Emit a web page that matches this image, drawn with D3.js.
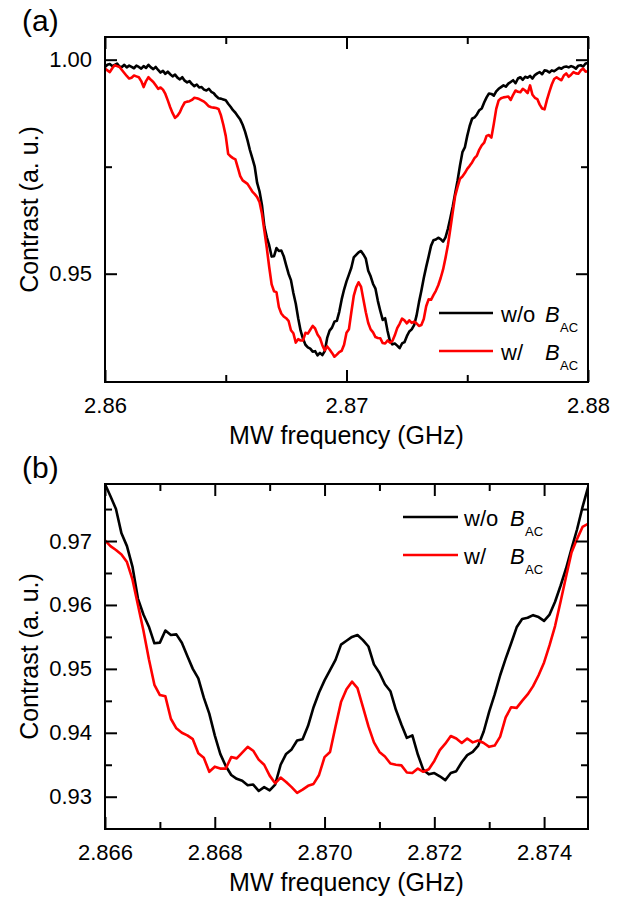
<!DOCTYPE html>
<html>
<head>
<meta charset="utf-8">
<script src="https://cdn.jsdelivr.net/npm/d3@7/dist/d3.min.js"></script>
<style>
    body { margin: 0; background: #fff; }
    svg { display: block; font-family: "Liberation Sans", Arial, sans-serif; }
    .axis text { font-size: 22px; fill: #000; }
    .axis line { stroke: #000; stroke-width: 2; }
    .axis path { display: none; }
    .frame { fill: none; stroke: #000; stroke-width: 2; }
    .series { fill: none; stroke-width: 2.6; stroke-linejoin: round; }
    .axislabel { font-size: 25px; fill: #000; }
    .panellabel { font-size: 30px; fill: #000; }
    .legendtext { font-size: 22px; fill: #000; }
    .legendsub { font-size: 13px; fill: #000; }
</style>
</head>
<body>
<svg id="vis" width="628" height="903"></svg>
<script>

// Data ------------------------------------------------------------------------

// Sweep grid (GHz): first point and spacing
const FREQ_START = 2.86;
const FREQ_STEP = 0.0001;

// Contrast without the AC field (black)
const contrastWithout = [
    0.9983, 0.9988, 0.9990, 0.9985, 0.9988, 0.9991, 0.9984, 0.9983, 0.9988, 0.9982,
    0.9986, 0.9983, 0.9980, 0.9986, 0.9983, 0.9979, 0.9985, 0.9981, 0.9988, 0.9982,
    0.9978, 0.9983, 0.9976, 0.9970, 0.9974, 0.9967, 0.9972, 0.9966, 0.9961, 0.9965,
    0.9958, 0.9954, 0.9959, 0.9951, 0.9947, 0.9950, 0.9943, 0.9938, 0.9942, 0.9935,
    0.9936, 0.9930, 0.9928, 0.9932, 0.9925, 0.9922, 0.9915, 0.9910, 0.9909, 0.9907,
    0.9905, 0.9897, 0.9890, 0.9882, 0.9876, 0.9868, 0.9860, 0.9848, 0.9832, 0.9812,
    0.9789, 0.9770, 0.9750, 0.9712, 0.9692, 0.9660, 0.9610, 0.9585, 0.9566, 0.9540,
    0.9541, 0.9560, 0.9553, 0.9554, 0.9541, 0.9520, 0.9500, 0.9485, 0.9455, 0.9430,
    0.9396, 0.9367, 0.9348, 0.9334, 0.9328, 0.9325, 0.9318, 0.9319, 0.9309, 0.9315,
    0.9310, 0.9319, 0.9350, 0.9367, 0.9374, 0.9388, 0.9390, 0.9411, 0.9440, 0.9463,
    0.9482, 0.9498, 0.9514, 0.9538, 0.9544, 0.9550, 0.9553, 0.9545, 0.9535, 0.9507,
    0.9494, 0.9476, 0.9465, 0.9436, 0.9413, 0.9392, 0.9396, 0.9366, 0.9342, 0.9335,
    0.9337, 0.9332, 0.9326, 0.9337, 0.9340, 0.9354, 0.9365, 0.9370, 0.9380, 0.9402,
    0.9433, 0.9460, 0.9490, 0.9516, 0.9540, 0.9565, 0.9578, 0.9580, 0.9584, 0.9581,
    0.9575, 0.9585, 0.9605, 0.9630, 0.9657, 0.9688, 0.9718, 0.9753, 0.9784,
    0.9795, 0.9822, 0.9845, 0.9862, 0.9865, 0.9872, 0.9882, 0.9886, 0.9900, 0.9912,
    0.9921, 0.9920, 0.9916, 0.9926, 0.9932, 0.9936, 0.9940, 0.9937, 0.9944, 0.9948,
    0.9952, 0.9945, 0.9956, 0.9959, 0.9953, 0.9960, 0.9958, 0.9962, 0.9956, 0.9964,
    0.9968, 0.9971, 0.9966, 0.9975, 0.9974, 0.9970, 0.9975, 0.9973, 0.9977, 0.9981,
    0.9979, 0.9983, 0.9984, 0.9982, 0.9985, 0.9983, 0.9979, 0.9986, 0.9987, 0.9984,
    0.9991, 0.9992
];

// Contrast with the AC field (red)
const contrastWith = [
    0.9979, 0.9975, 0.9971, 0.9980, 0.9987, 0.9985, 0.9983, 0.9976, 0.9969, 0.9962,
    0.9956, 0.9958, 0.9963, 0.9961, 0.9959, 0.9950, 0.9936, 0.9950, 0.9959, 0.9953,
    0.9948, 0.9940, 0.9932, 0.9935, 0.9930, 0.9920, 0.9905, 0.9889, 0.9875, 0.9864,
    0.9869, 0.9877, 0.9890, 0.9900, 0.9902, 0.9903, 0.9906, 0.9911, 0.9910, 0.9908,
    0.9905, 0.9902, 0.9897, 0.9891, 0.9889, 0.9888, 0.9887, 0.9885, 0.9870, 0.9848,
    0.9822, 0.9780, 0.9774, 0.9770, 0.9767, 0.9748, 0.9728, 0.9718, 0.9714, 0.9710,
    0.9701, 0.9692, 0.9686, 0.9679, 0.9667, 0.9640, 0.9600, 0.9560, 0.9515, 0.9475,
    0.9459, 0.9457, 0.9422, 0.9407, 0.9400, 0.9396, 0.9390, 0.9368, 0.9361, 0.9339,
    0.9347, 0.9344, 0.9344, 0.9362, 0.9360, 0.9369, 0.9378, 0.9372, 0.9358, 0.9350,
    0.9333, 0.9321, 0.9330, 0.9323, 0.9315, 0.9306, 0.9311, 0.9317, 0.9320, 0.9334,
    0.9362, 0.9370, 0.9410, 0.9448, 0.9468, 0.9480, 0.9470, 0.9440, 0.9410, 0.9385,
    0.9370, 0.9363, 0.9352, 0.9350, 0.9349, 0.9338, 0.9337, 0.9344, 0.9339, 0.9343,
    0.9356, 0.9373, 0.9383, 0.9395, 0.9391, 0.9384, 0.9391, 0.9385, 0.9388, 0.9384,
    0.9378, 0.9380, 0.9394, 0.9424, 0.9440, 0.9439, 0.9450, 0.9460, 0.9473, 0.9490,
    0.9510, 0.9537, 0.9567, 0.9605, 0.9644, 0.9682, 0.9703, 0.9722, 0.9727,
    0.9735, 0.9745, 0.9752, 0.9760, 0.9770, 0.9776, 0.9790, 0.9800, 0.9806, 0.9822,
    0.9824, 0.9818, 0.9850, 0.9885, 0.9905, 0.9910, 0.9912, 0.9913, 0.9914, 0.9906,
    0.9918, 0.9928, 0.9925, 0.9924, 0.9932, 0.9928, 0.9922, 0.9940, 0.9918, 0.9911,
    0.9908, 0.9895, 0.9886, 0.9884, 0.9906, 0.9925, 0.9942, 0.9955, 0.9959, 0.9955,
    0.9952, 0.9963, 0.9968, 0.9960, 0.9965, 0.9971, 0.9968, 0.9967, 0.9975, 0.9979,
    0.9972, 0.9973
];

const seriesNames = ["w/o", "w/"];
const seriesColours = ["#000000", "#ff0000"];

// Panel (a) axes
const xDomainA = [2.86, 2.88];
const yDomainA = [0.9247, 1.0053];
const xTicksA = [2.86, 2.87, 2.88];
const xMinorA = [2.865, 2.875];
const yTicksA = [0.95, 1.00];
const yMinorA = [0.975];

// Panel (b) axes
const xDomainB = [2.866, 2.8748];
const yDomainB = [0.92495, 0.97892];
const xTicksB = [2.866, 2.868, 2.870, 2.872, 2.874];
const xMinorB = [2.867, 2.869, 2.871, 2.873];
const yTicksB = [0.93, 0.94, 0.95, 0.96, 0.97];
const yMinorB = [0.935, 0.945, 0.955, 0.965, 0.975];

// Layout ----------------------------------------------------------------------

const LEFT = 105;
const RIGHT = 588;

// Functions: setup ------------------------------------------------------------

function setup() {

    const svg = d3.select("#vis");

    const series = [contrastWithout, contrastWith].map((vals, k) => ({
        name: seriesNames[k],
        colour: seriesColours[k],
        values: vals.map((c, i) => ({
            f: +(FREQ_START + i * FREQ_STEP).toFixed(4),
            c: c
        }))
    }));

    buildPanel(svg, series, {
        id: "a",
        label: "(a)",
        top: 37,
        bottom: 382,
        xDomain: xDomainA, yDomain: yDomainA,
        xTicks: xTicksA, xMinor: xMinorA,
        yTicks: yTicksA, yMinor: yMinorA,
        xFormat: ".2f", yFormat: ".2f",
        legend: {x1: 439, x2: 493, y0: 313, gap: 38, textX: 501, bX: 545}
    });

    buildPanel(svg, series, {
        id: "b",
        label: "(b)",
        top: 484,
        bottom: 829,
        xDomain: xDomainB, yDomain: yDomainB,
        xTicks: xTicksB, xMinor: xMinorB,
        yTicks: yTicksB, yMinor: yMinorB,
        xFormat: ".3f", yFormat: ".2f",
        legend: {x1: 403, x2: 458, y0: 517, gap: 38, textX: 464, bX: 510}
    });
}

// Panel building --------------------------------------------------------------

function buildPanel(svg, series, config) {

    const g = svg.append("g").attr("class", "panel-" + config.id);

    const xscale = d3.scaleLinear()
        .domain(config.xDomain)
        .range([LEFT, RIGHT]);

    const yscale = d3.scaleLinear()
        .domain(config.yDomain)
        .range([config.bottom, config.top]);

    // Clip the traces to the frame
    g.append("clipPath")
        .attr("id", "clip-" + config.id)
        .append("rect")
        .attr("x", LEFT)
        .attr("y", config.top)
        .attr("width", RIGHT - LEFT)
        .attr("height", config.bottom - config.top);

    const line = d3.line()
        .x(d => xscale(d.f))
        .y(d => yscale(d.c));

    g.append("g")
        .attr("clip-path", `url(#clip-${config.id})`)
        .selectAll(".series")
        .data(series)
        .enter()
        .append("path")
        .attr("class", "series")
        .attr("stroke", d => d.colour)
        .attr("d", d => line(d.values));

    // Axes, ticks pointing inwards on all four sides
    const bottom = `translate(0,${config.bottom})`;
    const top = `translate(0,${config.top})`;

    g.append("g").attr("class", "axis").attr("transform", bottom)
        .call(d3.axisBottom(xscale).tickValues(config.xTicks)
            .tickFormat(d3.format(config.xFormat))
            .tickSize(-12).tickPadding(15));
    g.append("g").attr("class", "axis").attr("transform", bottom)
        .call(d3.axisBottom(xscale).tickValues(config.xMinor)
            .tickFormat("").tickSize(-7));
    g.append("g").attr("class", "axis").attr("transform", top)
        .call(d3.axisTop(xscale).tickValues(config.xTicks)
            .tickFormat("").tickSize(-12));
    g.append("g").attr("class", "axis").attr("transform", top)
        .call(d3.axisTop(xscale).tickValues(config.xMinor)
            .tickFormat("").tickSize(-7));

    g.append("g").attr("class", "axis").attr("transform", `translate(${LEFT},0)`)
        .call(d3.axisLeft(yscale).tickValues(config.yTicks)
            .tickFormat(d3.format(config.yFormat))
            .tickSize(-12).tickPadding(13));
    g.append("g").attr("class", "axis").attr("transform", `translate(${LEFT},0)`)
        .call(d3.axisLeft(yscale).tickValues(config.yMinor)
            .tickFormat("").tickSize(-7));
    g.append("g").attr("class", "axis").attr("transform", `translate(${RIGHT},0)`)
        .call(d3.axisRight(yscale).tickValues(config.yTicks)
            .tickFormat("").tickSize(-12));
    g.append("g").attr("class", "axis").attr("transform", `translate(${RIGHT},0)`)
        .call(d3.axisRight(yscale).tickValues(config.yMinor)
            .tickFormat("").tickSize(-7));

    g.append("rect")
        .attr("class", "frame")
        .attr("x", LEFT)
        .attr("y", config.top)
        .attr("width", RIGHT - LEFT)
        .attr("height", config.bottom - config.top);

    // Axis titles
    g.append("text")
        .attr("class", "axislabel")
        .attr("x", (LEFT + RIGHT) / 2)
        .attr("y", config.bottom + 62)
        .style("text-anchor", "middle")
        .text("MW frequency (GHz)");

    g.append("text")
        .attr("class", "axislabel")
        .attr("transform",
            `translate(38, ${(config.top + config.bottom) / 2}) rotate(-90)`)
        .style("text-anchor", "middle")
        .text("Contrast (a. u.)");

    // Panel letter
    g.append("text")
        .attr("class", "panellabel")
        .attr("x", 22)
        .attr("y", config.top - 6)
        .text(config.label);

    // Legend
    const lg = config.legend;
    const item = g.selectAll(".legend")
        .data(series)
        .enter()
        .append("g")
        .attr("class", "legend")
        .attr("transform", (d, i) => `translate(0,${lg.y0 + i * lg.gap})`);

    item.append("line")
        .attr("x1", lg.x1).attr("x2", lg.x2)
        .attr("y1", 0).attr("y2", 0)
        .attr("stroke", d => d.colour)
        .attr("stroke-width", 2.6);

    item.append("text")
        .attr("class", "legendtext")
        .attr("x", lg.textX)
        .attr("y", 9)
        .text(d => d.name);

    item.append("text")
        .attr("class", "legendtext")
        .attr("x", lg.bX)
        .attr("y", 9)
        .style("font-style", "italic")
        .text("B");

    item.append("text")
        .attr("class", "legendsub")
        .attr("x", lg.bX + 15)
        .attr("y", 19)
        .text("AC");
}

// Global execution ------------------------------------------------------------

setup();

</script>
</body>
</html>
